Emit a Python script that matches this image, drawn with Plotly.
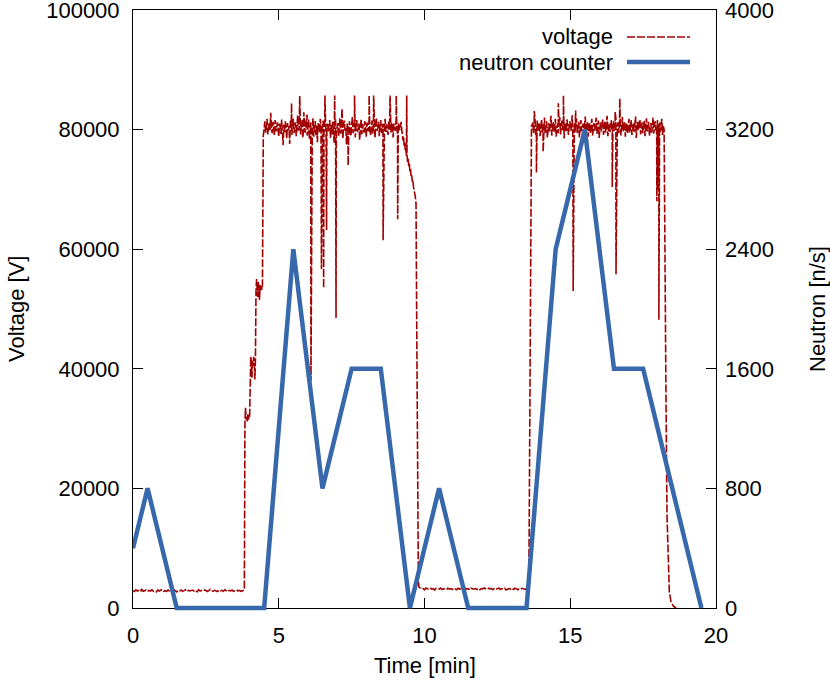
import plotly.graph_objects as go

# ---------------- data ----------------
# neutron counter (n/s) vs time (min)
neutron_time = [0, 0.5, 1.5, 2.5, 3.5, 4.5, 5.5, 6.5, 7.5, 8.5, 9.5, 10.5,
                11.5, 12.5, 13.5, 14.5, 15.5, 16.5, 17.5, 18.5, 19.5]
neutron_rate = [400, 800, 0, 0, 0, 0, 2400, 800, 1600, 1600, 0, 800,
                0, 0, 0, 2400, 3200, 1600, 1600, 800, 0]

# voltage: baseline before first ramp (sampled every 0.05 min from 0)
volt_base1_t0, volt_base1_dt = 0.0, 0.05
volt_base1 = [2900, 2750, 3050, 2850, 2950, 2700, 3100, 2800, 2900, 3000,
              2750, 2950, 2850, 3050, 2800, 2900, 2700, 3000, 2850, 2950,
              3100, 2800, 2900, 2750, 3000, 2850, 2950, 2800, 3050, 2900,
              2700, 2950, 2850, 3000, 2800, 2900, 3050, 2750, 2950, 2850,
              2900, 3000, 2800, 2950, 2700, 3050, 2850, 2900, 2800, 3000,
              2950, 2750, 2900, 3100, 2850, 2800, 2950, 2900, 2750, 3000,
              2850, 2950, 2800, 3050, 2900, 2700, 2950, 2850, 3000, 2800,
              2900, 3050, 2850, 2950, 2800, 2900, 3000]

# voltage: stepped ramp-up (time, value)
volt_steps_t = [3.82, 3.84, 3.86, 3.88, 3.90, 3.92, 3.94, 3.96, 3.98, 4.00,
                4.02, 4.04, 4.06, 4.08, 4.10, 4.12, 4.14, 4.16, 4.18, 4.20,
                4.22, 4.24, 4.26, 4.28, 4.30, 4.32, 4.34, 4.36, 4.38, 4.40,
                4.42, 4.44, 4.47]
volt_steps_v = [3000, 31000, 33500, 31500, 32000, 31200, 32500, 31500, 32000, 31800,
                40000, 42000, 41000, 38500, 41500, 40500, 42000, 41000, 38200, 41500,
                53000, 55000, 53500, 52000, 54500, 53000, 51500, 54000, 53000, 53800,
                53200, 54000, 79000]

# voltage: first plateau (sampled every 0.025 min from 4.50)
volt_plat1_t0, volt_plat1_dt = 4.50, 0.025
volt_plat1 = [80300, 81400, 79500, 80900, 81800, 79200, 80600, 81100, 79900, 82800,
              80200, 79400, 81300, 80700, 79000, 81600, 80100, 79700, 81200, 80500,
              78800, 81000, 80400, 79300, 81700, 80000, 77400, 80800, 79600, 81400,
              80300, 78500, 81100, 79900, 80600, 77600, 81500, 80200, 79100, 80900,
              81800, 79400, 80500, 81200, 78900, 80700, 82400, 79800, 80300, 81000,
              79200, 80800, 81600, 78600, 80100, 81300, 79500, 80900, 82000, 79000,
              80400, 81700, 78400, 80600, 81200, 79300, 80000, 81900, 78800, 80500,
              81400, 79100, 80700, 77900, 81100, 80200, 79600, 81800, 80300, 78700,
              80900, 81500, 79400, 80100, 82200, 78900, 80600, 81000, 79700, 80400,
              81600, 78600, 80800, 79200, 81300, 80000, 77800, 80500, 81700, 79500,
              80200, 81100, 78800, 80700, 81900, 79300, 80400, 81200, 78500, 80900,
              81500, 79800, 80300, 77500, 81000, 80600, 79100, 81400, 80100, 78900,
              80700, 82100, 79400, 80000, 81300, 78700, 80800, 81600, 79600, 80200,
              81000, 78300, 80500, 81800, 79200, 80900, 80100, 79500, 81400, 80600,
              78800, 81200, 80300, 79700, 81700, 80000, 79000, 80800, 81500, 79300,
              80600, 81100, 78600, 80400, 82000, 79800, 80200, 81300, 78900, 80700,
              81600, 79400, 80100, 81000, 78200, 80500, 81800, 79600, 80900, 80300,
              79100, 81400, 80000, 80800, 79500, 81200, 80400, 78700, 81000, 80600,
              79800, 81500, 80200, 79300, 81100, 80700, 79900, 80500, 81300, 79600]

# voltage: single-sample spikes during first plateau (time, value)
volt_spike1_t = [5.44, 5.72, 5.86, 5.97, 6.105, 6.465, 6.54, 6.585, 6.64, 6.92,
                 6.965, 7.17, 7.38, 7.60, 8.10, 8.255, 8.58, 8.82, 9.03, 9.08]
volt_spike1_v = [84400, 85600, 82900, 82500, 38000, 56700, 53500, 85700, 63200, 85700,
                 48500, 83500, 74000, 85700, 85700, 85700, 61500, 85700, 85700, 65000]

# voltage: sag and shutdown at end of first run (time, value)
volt_decay1_t = [9.24, 9.26, 9.28, 9.30, 9.32, 9.34, 9.36, 9.38, 9.39, 9.40,
                 9.42, 9.44, 9.46, 9.48, 9.50, 9.52, 9.54, 9.56, 9.58, 9.60,
                 9.62, 9.64, 9.66, 9.68, 9.70, 9.71, 9.73, 9.75, 9.77, 9.79, 9.81]
volt_decay1_v = [79400, 78200, 78900, 77300, 77800, 76400, 76900, 75600, 85700, 75800,
                 74600, 75100, 73900, 74300, 73000, 73400, 72200, 72500, 71300, 71600,
                 70500, 70100, 69300, 68900, 68200, 67500, 50000, 25000, 9000, 4500, 3500]

# voltage: baseline between runs (sampled every 0.05 min from 9.85)
volt_base2_t0, volt_base2_dt = 9.85, 0.05
volt_base2 = [3300, 3150, 3250, 3050, 3350, 3200, 3100, 3300, 3150, 3250,
              3000, 3300, 3200, 3150, 3350, 3100, 3250, 3200, 3050, 3300,
              3150, 3250, 3100, 3350, 3200, 3050, 3300, 3150, 3250, 3200,
              3100, 3350, 3150, 3250, 3000, 3300, 3200, 3150, 3250, 3100,
              3300, 3050, 3250, 3200, 3350, 3150, 3100, 3300, 3200, 3250,
              3050, 3300, 3150, 3200, 3350, 3100, 3250, 3150, 3300, 3000,
              3200, 3250, 3150, 3350, 3100, 3300, 3200, 3050, 3250, 3150,
              3300, 3200, 3100, 3250, 3200]

# voltage: second ramp-up (time, value)
volt_rise2_t = [13.57, 13.59, 13.61, 13.63, 13.65, 13.67]
volt_rise2_v = [3300, 12000, 35000, 60000, 78000, 80800]

# voltage: second plateau (sampled every 0.025 min from 13.69)
volt_plat2_t0, volt_plat2_dt = 13.69, 0.025
volt_plat2 = [80500, 81300, 79400, 80800, 81900, 79100, 80300, 81500, 79800, 80700,
              81200, 78900, 80400, 81700, 79500, 80900, 80100, 82000, 79300, 80600,
              81400, 78700, 80200, 81100, 79700, 80800, 82300, 79000, 80500, 81300,
              79600, 80900, 81800, 78800, 80400, 81000, 79400, 80700, 82100, 79200,
              80300, 81500, 79900, 80600, 78500, 81200, 80100, 79600, 81700, 80400,
              79100, 80800, 81400, 79800, 80200, 82400, 78900, 80500, 81100, 79500,
              80700, 81900, 79300, 80400, 81300, 78700, 80900, 81600, 79700, 80300,
              81000, 79200, 80600, 82200, 79600, 80100, 81400, 78800, 80800, 81200,
              79400, 80500, 81800, 79000, 80300, 81100, 79800, 80700, 82000, 79300,
              80600, 81500, 78600, 80400, 81200, 79700, 80900, 81700, 79100, 80200,
              81300, 79500, 80800, 82300, 78900, 80500, 81000, 79600, 80300, 81600,
              79200, 80700, 81400, 79800, 80100, 81900, 78700, 80600, 81200, 79400,
              80900, 81500, 79000, 80400, 82100, 79700, 80200, 81300, 78800, 80700,
              81100, 79300, 80500, 81800, 79500, 80800, 81600, 79100, 80300, 81000,
              79600, 80900, 82200, 78600, 80400, 81400, 79900, 80600, 81700, 79200,
              80100, 81200, 79400, 80800, 81500, 78900, 80500, 81900, 79700, 80300,
              81300, 79000, 80700, 81100, 79500, 80200, 82000, 79300, 80600, 81400,
              79800, 80500, 81600, 78800, 80900, 81200, 79600, 80400, 81800, 79100,
              80600]

# voltage: single-sample spikes during second plateau (time, value)
volt_spike2_t = [13.765, 13.84, 14.07, 14.59, 14.765, 15.10, 15.185, 16.44, 16.54, 16.57,
                 16.70, 17.97, 17.99, 18.02, 18.04]
volt_spike2_v = [83100, 72800, 76300, 84400, 85700, 53000, 83200, 70400, 83000, 55800,
                 85200, 68000, 70000, 63200, 48200]

# voltage: shutdown at end of second run (time, value)
volt_decay2_t = [18.22, 18.25, 18.28, 18.32, 18.36, 18.40, 18.46, 18.54, 18.63]
volt_decay2_v = [80000, 65000, 38000, 15300, 6000, 2600, 1000, 300, 0]


# ---------------- assemble voltage series ----------------
def grid(t0, dt, vals):
    return [(t0 + i * dt, v) for i, v in enumerate(vals)]


pts = []
pts += grid(volt_base1_t0, volt_base1_dt, volt_base1)
pts += list(zip(volt_steps_t, volt_steps_v))
pts += grid(volt_plat1_t0, volt_plat1_dt, volt_plat1)
pts += list(zip(volt_spike1_t, volt_spike1_v))
pts += list(zip(volt_decay1_t, volt_decay1_v))
pts += grid(volt_base2_t0, volt_base2_dt, volt_base2)
pts += list(zip(volt_rise2_t, volt_rise2_v))
pts += grid(volt_plat2_t0, volt_plat2_dt, volt_plat2)
pts += list(zip(volt_spike2_t, volt_spike2_v))
pts += list(zip(volt_decay2_t, volt_decay2_v))
pts.sort(key=lambda p: p[0])
volt_t = [p[0] for p in pts]
volt_v = [p[1] for p in pts]

# ---------------- figure ----------------
FONT = "Liberation Sans, Arial, sans-serif"
FS = 22
W, H = 830, 688
ML, MR, MT, MB = 133, 114, 10, 74
PW = W - ML - MR          # plot width in px
PH = H - MT - MB          # paper height in px
PAD = 6                   # px of extra room below axis for the thick line
BOT = PH - PAD            # main plot height

RED = "#a00000"
BLUE = "#3768ab"
VDASH = "8px,2px"

fig = go.Figure()
fig.add_trace(go.Scatter(
    x=volt_t, y=volt_v, mode="lines", name="voltage",
    line=dict(color=RED, width=1.6, dash=VDASH),
    xaxis="x", yaxis="y", showlegend=False, hoverinfo="skip"))
fig.add_trace(go.Scatter(
    x=neutron_time, y=neutron_rate, mode="lines", name="neutron counter",
    line=dict(color=BLUE, width=4.5), xaxis="x", yaxis="y3",
    showlegend=False, hoverinfo="skip"))

n_top = 4000
n_bottom = -PAD * n_top / BOT

axis_common = dict(showgrid=False, zeroline=False, ticks="inside", ticklen=10,
                   tickwidth=1, tickcolor="black", ticklabelstandoff=8,
                   ticklabeloverflow="allow", automargin=False,
                   tickfont=dict(family=FONT, size=FS, color="black"))

fig.update_layout(
    width=W, height=H,
    margin=dict(l=ML, r=MR, t=MT, b=MB, pad=0, autoexpand=False),
    paper_bgcolor="white", plot_bgcolor="rgba(0,0,0,0)",
    font=dict(family=FONT, size=FS, color="black"),
    showlegend=False,
    xaxis=dict(range=[0, 20], tickvals=[0, 5, 10, 15, 20], showline=True,
               linecolor="black", linewidth=1, mirror="ticks", anchor="y",
               **axis_common),
    yaxis=dict(range=[0, 100000], tickvals=[0, 20000, 40000, 60000, 80000, 100000],
               tickformat="d", showline=True, linecolor="black", linewidth=1,
               mirror=True, domain=[PAD / PH, 1], anchor="x", **axis_common),
    yaxis3=dict(range=[n_bottom, n_top], tickvals=[0, 800, 1600, 2400, 3200, 4000],
                tickformat="d", side="right", anchor="x", domain=[0, 1],
                showline=False, **axis_common),
)


def px_x(px):
    return (px - ML) / PW


def px_y(py):
    return (MT + PH - py) / PH


ann = [
    dict(text="Time [min]", x=0.5, y=px_y(665), xanchor="center", yanchor="middle"),
    dict(text="Voltage [V]", x=px_x(16), y=px_y(309), xanchor="center",
         yanchor="middle", textangle=-90),
    dict(text="Neutron [n/s]", x=px_x(817), y=px_y(309), xanchor="center",
         yanchor="middle", textangle=-90),
    dict(text="voltage", x=px_x(615), y=px_y(37), xanchor="right", yanchor="middle"),
    dict(text="neutron counter", x=px_x(615), y=px_y(62), xanchor="right",
         yanchor="middle"),
]
for a in ann:
    fig.add_annotation(xref="paper", yref="paper", showarrow=False,
                       font=dict(family=FONT, size=FS, color="black"), **a)

fig.add_shape(type="line", xref="paper", yref="paper",
              x0=px_x(627), x1=px_x(690), y0=px_y(37), y1=px_y(37),
              line=dict(color=RED, width=1.6, dash=VDASH))
fig.add_shape(type="line", xref="paper", yref="paper",
              x0=px_x(627), x1=px_x(690), y0=px_y(62), y1=px_y(62),
              line=dict(color=BLUE, width=4.5))

fig.write_html("out.html", config={"displayModeBar": False},
               post_script="document.body.style.margin='0';"
                           "document.body.style.overflow='hidden';")
